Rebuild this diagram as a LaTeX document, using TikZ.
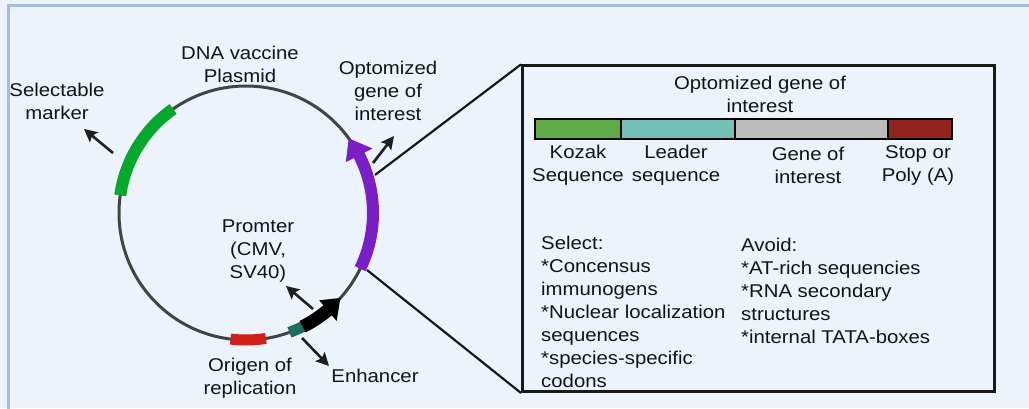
\documentclass[tikz,border=0pt]{standalone}
\usepackage{fontspec}
\setmainfont{Liberation Sans}[FakeStretch=1.1]
\usetikzlibrary{arrows.meta}
\definecolor{bg}{HTML}{ECF3FC}
\definecolor{frame}{HTML}{A7BBE0}
\definecolor{ring}{HTML}{444444}
\definecolor{mgreen}{HTML}{05A82D}
\definecolor{mred}{HTML}{D0201A}
\definecolor{mteal}{HTML}{1F6B5C}
\definecolor{mpurple}{HTML}{7A1FC4}
\definecolor{bgreen}{HTML}{5FAB47}
\definecolor{bteal}{HTML}{74C0B8}
\definecolor{bgray}{HTML}{BBBBBB}
\definecolor{bred}{HTML}{942320}
\tikzset{
  lbl/.style={font=\fontsize{18.5}{23}\selectfont, text=black!92, inner sep=0pt, align=center},
  lblleft/.style={font=\fontsize{18.5}{23}\selectfont, text=black!92, inner sep=0pt, align=left, anchor=west},
  pointer/.style={draw=black!88, line width=2.6pt, -{Stealth[length=13pt,width=13pt,inset=2.5pt]}},
  zoomline/.style={draw=black!90, line width=2.2pt},
  seg/.style={draw=black, line width=2pt},
}
\begin{document}
\begin{tikzpicture}[x=1pt,y=1pt]
\useasboundingbox (0,0) rectangle (1029,408);
\fill[bg] (0,0) rectangle (1029,408);
\draw[frame, line width=3pt] (8.5,-5) -- (8.5,402) -- (1040,402);
% plasmid
\coordinate (C) at (246,195);
\draw[ring, line width=3pt] (C) circle (127);
\draw[mgreen, line width=12pt] ([shift={(125:127)}]C) arc (125:172:127);
\draw[mred, line width=11pt] ([shift={(-97:127)}]C) arc (-97:-81:127);
\draw[mteal, line width=11pt] ([shift={(-70:127)}]C) arc (-70:-63:127);
\draw[black, line width=13pt] ([shift={(-63.5:127)}]C) arc (-63.5:-49.5:127);
\fill[black] ([shift={(-50:114)}]C) -- ([shift={(-50:141)}]C) -- ([shift={(-42:127)}]C) -- cycle;
\draw[mpurple, line width=12pt] ([shift={(-26:127)}]C) arc (-26:27.5:127);
\fill[mpurple] ([shift={(27:112)}]C) -- ([shift={(27:142)}]C) -- ([shift={(36:127)}]C) -- cycle;
% labels
\node[lbl] (dna) at (240,343.5) {DNA vaccine\\Plasmid};
\node[lbl] (sel) at (57,306.5) {Selectable\\marker};
\node[lbl] (opt) at (388,317) {Optomized\\gene of\\interest};
\node[lbl] (prom) at (258,157) {Promter\\(CMV,\\SV40)};
\node[lbl] (ori) at (250,29.5) {Origen of\\replication};
\node[lbl] (enh) at (375,32) {Enhancer};
% pointers
\coordinate (selA) at (113,255); \coordinate (selB) at (84,279);
\coordinate (optA) at (373,245); \coordinate (optB) at (394,272);
\coordinate (proA) at (313,99); \coordinate (proB) at (286,122);
\coordinate (enhA) at (302,70); \coordinate (enhB) at (329,42);
\draw[pointer] (selA) -- (selB);
\draw[pointer] (optA) -- (optB);
\draw[pointer] (proA) -- (proB);
\draw[pointer] (enhA) -- (enhB);
% zoom box
\node[draw=black!90, line width=2.6pt, minimum width=472pt, minimum height=326pt, inner sep=0pt, anchor=south west] (box) at (521,15) {};
\coordinate (zt) at (375,233);
\coordinate (zb) at (367,138);
\draw[zoomline] (zt) -- (box.north west);
\draw[zoomline] (zb) -- (box.south west);
% gene bar
\node[lbl] (bart) at (760,314) {Optomized gene of\\interest};
\fill[bgreen] (535,269) rectangle (621,289);
\fill[bteal] (621,269) rectangle (735,289);
\fill[bgray] (735,269) rectangle (888,289);
\fill[bred] (888,269) rectangle (952,289);
\draw[seg] (621,269) -- (621,289);
\draw[seg] (735,269) -- (735,289);
\draw[seg] (888,269) -- (888,289);
\draw[black, line width=2.8pt] (535,269) rectangle (952,289);
\node[lbl] (koz) at (578,242.5) {Kozak\\Sequence};
\node[lbl] (lead) at (676,242.5) {Leader\\sequence};
\node[lbl] (goi) at (808,242.5) {Gene of\\interest};
\node[lbl] (stop) at (918,242.5) {Stop or\\Poly (A)};
\node[lblleft] (select) at (541,96.5) {Select:\\*Concensus\\immunogens\\*Nuclear localization\\sequences\\*species-specific\\codons};
\node[lblleft] (avoid) at (741,117.5) {Avoid:\\*AT-rich sequencies\\*RNA secondary\\structures\\*internal TATA-boxes};
\end{tikzpicture}
\end{document}
